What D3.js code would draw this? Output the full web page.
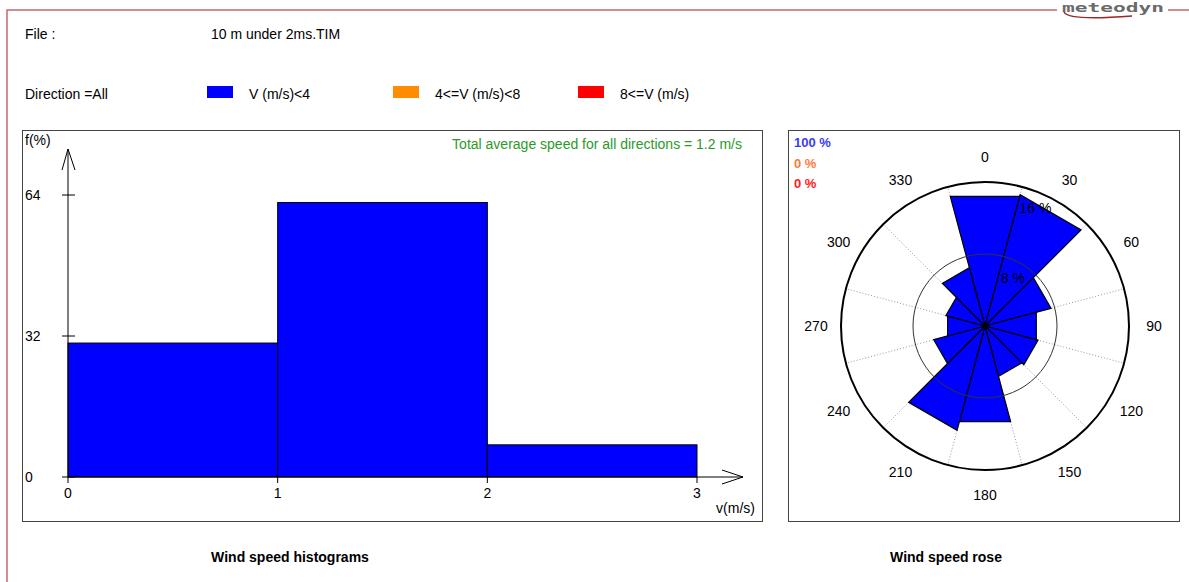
<!DOCTYPE html>
<html>
<head>
<meta charset="utf-8">
<script src="https://cdn.jsdelivr.net/npm/d3@7"></script>
<style>
  body { margin: 0; background: #fff; }
  svg text { font-family: "Liberation Sans", Arial, sans-serif; }
</style>
</head>
<body>
<div class="container"></div>
<script>
// data
var fileName = "10 m under 2ms.TIM";
var speedEdges = [0, 1, 2, 3];
var speedFreq = [30.4, 62.3, 7.3];          // f(%) per 1 m/s bin
var yTicks = [0, 32, 64];
var xTicks = [0, 1, 2, 3];
var avgSpeed = 1.2;

var classLabels = ["V (m/s)<4", "4<=V (m/s)<8", "8<=V (m/s)"];
var classColors = ["#0000ff", "#ff8c00", "#ff0000"];
var classShare = [100, 0, 0];
var shareColors = ["#3a3aff", "#ff7a3a", "#ff2020"];

var directions = [0, 30, 60, 90, 120, 150, 180, 210, 240, 270, 300, 330];
var roseFreq = [14.9, 15.1, 7.6, 5.9, 6.1, 5.8, 11.0, 12.0, 5.9, 4.3, 4.5, 6.7];
var roseRings = [8, 16];

// canvas
var W = 1189, H = 582;
var svg = d3.select(".container").append("svg")
  .attr("width", W).attr("height", H);

var border = "#c46a6a";
var font = 14;

// page frame + logo
svg.append("path")
  .attr("d", "M7,582 L7,10 L1057,10 M1168,10 L1189,10")
  .attr("fill", "none").attr("stroke", border).attr("stroke-width", 1.5);
svg.append("text").attr("x", 1062).attr("y", 12)
  .attr("textLength", 102).attr("lengthAdjust", "spacingAndGlyphs")
  .style("font-size", "12px").style("font-weight", "bold")
  .style("font-family", "'DejaVu Sans Mono', monospace")
  .attr("fill", "#6a6a6a").text("meteodyn");
svg.append("path")
  .attr("d", "M1064,12 Q1068,21 1132,16")
  .attr("fill", "none").attr("stroke", "#9a2a2a").attr("stroke-width", 1.5);

// header
svg.append("text").attr("x", 25).attr("y", 39).style("font-size", font + "px").text("File :");
svg.append("text").attr("x", 211).attr("y", 39).style("font-size", font + "px").text(fileName);
svg.append("text").attr("x", 25).attr("y", 99).style("font-size", font + "px").text("Direction =All");

var legendX = [207, 393, 578];
classLabels.forEach(function(d, i) {
  svg.append("rect").attr("x", legendX[i]).attr("y", 86).attr("width", 26).attr("height", 12)
    .attr("fill", classColors[i]);
  svg.append("text").attr("x", legendX[i] + 42).attr("y", 99)
    .style("font-size", font + "px").text(d);
});

// ---------- histogram ----------
svg.append("rect").attr("x", 22.5).attr("y", 130.5).attr("width", 740).attr("height", 391)
  .attr("fill", "none").attr("stroke", "#444");

var x = d3.scaleLinear().domain([0, 3]).range([68, 697]);
var y = d3.scaleLinear().domain([0, 64]).range([477, 195]);

var hist = svg.append("g");
hist.selectAll("rect.bar")
  .data(speedFreq)
  .enter().append("rect")
  .attr("class", "bar")
  .attr("x", function(d, i) { return x(speedEdges[i]); })
  .attr("width", function(d, i) { return x(speedEdges[i + 1]) - x(speedEdges[i]); })
  .attr("y", function(d) { return y(d); })
  .attr("height", function(d) { return y(0) - y(d); })
  .attr("fill", "#0000ff").attr("stroke", "#000").attr("stroke-width", 1);

// axes with arrows
hist.append("path")
  .attr("d", "M" + x(0) + "," + y(0) + " L" + x(0) + ",149 M62,170 L" + x(0) + ",149 L75,170")
  .attr("fill", "none").attr("stroke", "#000");
hist.append("path")
  .attr("d", "M" + x(0) + "," + y(0) + " L743," + y(0) + " M722,470 L743," + y(0) + " L722,484")
  .attr("fill", "none").attr("stroke", "#000");

hist.selectAll("line.ytick").data(yTicks).enter().append("line")
  .attr("x1", 62).attr("x2", 75)
  .attr("y1", function(d) { return y(d); }).attr("y2", function(d) { return y(d); })
  .attr("stroke", "#000");
hist.selectAll("text.ytick").data(yTicks).enter().append("text")
  .attr("x", 25).attr("y", function(d) { return y(d) + 5; })
  .style("font-size", font + "px").text(function(d) { return d; });

hist.selectAll("line.xtick").data(xTicks).enter().append("line")
  .attr("x1", function(d) { return x(d); }).attr("x2", function(d) { return x(d); })
  .attr("y1", y(0)).attr("y2", y(0) + 6)
  .attr("stroke", "#000");
hist.selectAll("text.xtick").data(xTicks).enter().append("text")
  .attr("x", function(d) { return x(d); }).attr("y", 498)
  .attr("text-anchor", "middle")
  .style("font-size", font + "px").text(function(d) { return d; });

svg.append("text").attr("x", 25).attr("y", 145).style("font-size", font + "px").text("f(%)");
svg.append("text").attr("x", 755).attr("y", 513).attr("text-anchor", "end")
  .style("font-size", font + "px").text("v(m/s)");
svg.append("text").attr("x", 742).attr("y", 149).attr("text-anchor", "end")
  .style("font-size", font + "px").attr("fill", "#2a9a2a")
  .text("Total average speed for all directions = " + avgSpeed + " m/s");

// ---------- rose ----------
svg.append("rect").attr("x", 788.5).attr("y", 130.5).attr("width", 391).attr("height", 391)
  .attr("fill", "none").attr("stroke", "#444");

var cx = 985, cy = 326;
var r = d3.scaleLinear().domain([0, 16]).range([0, 144]);
var rose = svg.append("g").attr("transform", "translate(" + cx + "," + cy + ")");
var rad = Math.PI / 180;

// dotted sector boundaries
rose.selectAll("line.spoke").data(directions).enter().append("line")
  .attr("x1", 0).attr("y1", 0)
  .attr("x2", function(d) { return d3.pointRadial((d + 15) * rad, r(16))[0]; })
  .attr("y2", function(d) { return d3.pointRadial((d + 15) * rad, r(16))[1]; })
  .attr("stroke", "#999").attr("stroke-dasharray", "1,2");

// sectors
rose.selectAll("path.sector").data(roseFreq).enter().append("path")
  .attr("class", "sector")
  .attr("d", function(v, i) {
    var a = d3.pointRadial((directions[i] - 15) * rad, r(v));
    var b = d3.pointRadial((directions[i] + 15) * rad, r(v));
    return "M0,0 L" + a[0] + "," + a[1] + " L" + b[0] + "," + b[1] + " Z";
  })
  .attr("fill", "#0000ff").attr("stroke", "#000").attr("stroke-width", 1.2);

// rings
rose.append("circle").attr("r", r(roseRings[0])).attr("fill", "none")
  .attr("stroke", "#333").attr("stroke-width", 1);
rose.append("circle").attr("r", r(roseRings[1])).attr("fill", "none")
  .attr("stroke", "#000").attr("stroke-width", 2);

rose.selectAll("text.ring").data(roseRings).enter().append("text")
  .attr("x", function(d) { return d3.pointRadial(15 * rad, r(d) - 22)[0] + 3; })
  .attr("y", function(d) { return d3.pointRadial(15 * rad, r(d) - 22)[1] + 5; })
  .style("font-size", font + "px").attr("fill", "#000")
  .text(function(d) { return d + " %"; });

rose.selectAll("text.dir").data(directions).enter().append("text")
  .attr("x", function(d) { return d3.pointRadial(d * rad, 169)[0]; })
  .attr("y", function(d) { return d3.pointRadial(d * rad, 169)[1]; })
  .attr("text-anchor", "middle").attr("dominant-baseline", "central")
  .style("font-size", font + "px").text(function(d) { return d; });

classShare.forEach(function(d, i) {
  svg.append("text").attr("x", 794).attr("y", 147 + i * 20.5)
    .style("font-size", "13px").style("font-weight", "bold")
    .attr("fill", shareColors[i]).text(d + " %");
});

// titles
svg.append("text").attr("x", 290).attr("y", 562).attr("text-anchor", "middle")
  .style("font-size", font + "px").style("font-weight", "bold").text("Wind speed histograms");
svg.append("text").attr("x", 946).attr("y", 562).attr("text-anchor", "middle")
  .style("font-size", font + "px").style("font-weight", "bold").text("Wind speed rose");
</script>
</body>
</html>
